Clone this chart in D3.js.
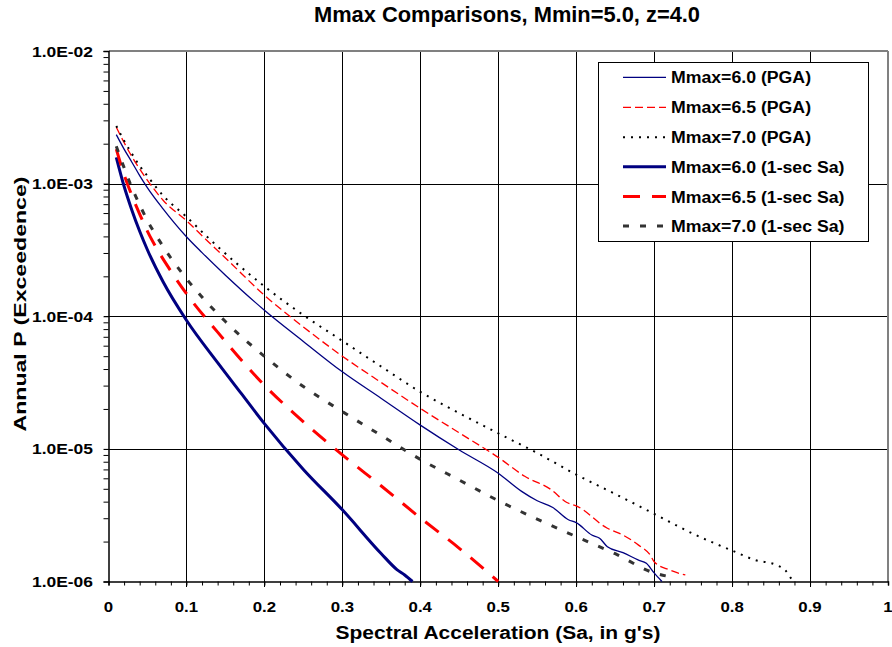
<!DOCTYPE html>
<html><head><meta charset="utf-8">
<script src="https://cdn.jsdelivr.net/npm/d3@7"></script>
<style>
html,body{margin:0;padding:0;background:#fff;}
svg{display:block;}
text{font-family:"Liberation Sans",Arial,sans-serif;font-weight:bold;fill:#000;}
</style></head>
<body>
<svg id="chart" width="892" height="647"></svg>
<script>
// ---------------- data ----------------
const titleText = "Mmax Comparisons, Mmin=5.0, z=4.0";
const xTitle = "Spectral Acceleration (Sa, in g's)";
const yTitle = "Annual P (Exceedence)";
const xTicks = [0,0.1,0.2,0.3,0.4,0.5,0.6,0.7,0.8,0.9,1];
const xTickLabels = ["0","0.1","0.2","0.3","0.4","0.5","0.6","0.7","0.8","0.9","1"];
const yTicks = [1e-6,1e-5,1e-4,1e-3,1e-2];
const yTickLabels = ["1.0E-06","1.0E-05","1.0E-04","1.0E-03","1.0E-02"];

const seriesNames = ["Mmax=6.0 (PGA)","Mmax=6.5 (PGA)","Mmax=7.0 (PGA)",
  "Mmax=6.0 (1-sec Sa)","Mmax=6.5 (1-sec Sa)","Mmax=7.0 (1-sec Sa)"];

const pga60X = [0.01,0.02,0.03,0.04,0.05,0.07,0.1,0.12,0.15,0.2,0.25,0.3,0.35,0.4,0.45,0.5,0.53,0.55,0.57,0.59,0.6,0.62,0.63,0.64,0.66,0.68,0.69,0.70,0.71];
const pga60P = [2.34e-3,1.82e-3,1.45e-3,1.15e-3,9.3e-4,6.46e-4,3.98e-4,3.02e-4,2.04e-4,1.11e-4,6.46e-5,3.81e-5,2.40e-5,1.51e-5,9.8e-6,6.55e-6,4.78e-6,4.06e-6,3.61e-6,2.92e-6,2.78e-6,2.24e-6,2.12e-6,1.83e-6,1.65e-6,1.45e-6,1.37e-6,1.16e-6,1.0e-6];

const pga65X = [0.01,0.02,0.03,0.04,0.05,0.07,0.1,0.13,0.15,0.2,0.25,0.3,0.35,0.4,0.45,0.5,0.534,0.568,0.588,0.6,0.64,0.66,0.68,0.695,0.70,0.72,0.74];
const pga65P = [2.66e-3,2.04e-3,1.60e-3,1.29e-3,1.06e-3,7.50e-4,5.25e-4,3.55e-4,2.75e-4,1.44e-4,8.3e-5,5.0e-5,3.16e-5,2.02e-5,1.32e-5,8.63e-6,6.21e-6,4.92e-6,3.94e-6,3.72e-6,2.52e-6,2.24e-6,1.88e-6,1.58e-6,1.41e-6,1.22e-6,1.12e-6];

const pga70X = [0.01,0.02,0.03,0.04,0.05,0.07,0.1,0.13,0.2,0.25,0.3,0.35,0.4,0.45,0.5,0.55,0.6,0.65,0.7,0.75,0.8,0.83,0.857,0.868,0.878];
const pga70P = [2.72e-3,2.11e-3,1.68e-3,1.36e-3,1.14e-3,8.13e-4,5.62e-4,3.80e-4,1.68e-4,1.02e-4,6.52e-5,4.17e-5,2.69e-5,1.86e-5,1.31e-5,9.3e-6,6.4e-6,4.57e-6,3.24e-6,2.29e-6,1.71e-6,1.45e-6,1.33e-6,1.22e-6,1.0e-6];

const sa60X = [0.01,0.02,0.03,0.04,0.05,0.07,0.1,0.14,0.17,0.2,0.25,0.3,0.35,0.37,0.38,0.39];
const sa60P = [1.58e-3,9.55e-4,6.31e-4,4.37e-4,3.16e-4,1.82e-4,9.33e-5,4.47e-5,2.63e-5,1.55e-5,7.0e-6,3.47e-6,1.62e-6,1.23e-6,1.12e-6,1.0e-6];

const sa65X = [0.01,0.02,0.03,0.04,0.05,0.06,0.08,0.1,0.14,0.2,0.25,0.3,0.35,0.4,0.45,0.5];
const sa65P = [1.82e-3,1.17e-3,8.13e-4,5.89e-4,4.37e-4,3.39e-4,2.19e-4,1.48e-4,7.59e-5,3.02e-5,1.60e-5,9.0e-6,5.25e-6,3.02e-6,1.78e-6,1.0e-6];

const sa70X = [0.01,0.02,0.03,0.04,0.05,0.06,0.08,0.1,0.15,0.2,0.25,0.3,0.35,0.4,0.45,0.5,0.55,0.6,0.65,0.7,0.727];
const sa70P = [1.91e-3,1.32e-3,9.33e-4,6.92e-4,5.25e-4,4.17e-4,2.75e-4,1.92e-4,9.12e-5,4.99e-5,2.95e-5,1.91e-5,1.26e-5,8.34e-6,5.82e-6,4.07e-6,2.95e-6,2.18e-6,1.62e-6,1.16e-6,1.07e-6];

// ---------------- styles ----------------
const seriesX = [pga60X,pga65X,pga70X,sa60X,sa65X,sa70X];
const seriesP = [pga60P,pga65P,pga70P,sa60P,sa65P,sa70P];
const styles = [
  {color:"#000080", width:1.3, dash:null},
  {color:"#ff0000", width:1.3, dash:"8,4"},
  {color:"#000000", width:2,   dash:"2,6"},
  {color:"#000080", width:3,   dash:null},
  {color:"#ff0000", width:3,   dash:"17,12"},
  {color:"#333333", width:3,   dash:"6,11"}
];

// ---------------- layout ----------------
const svg = d3.select("#chart");
const L = 108.5, R = 888, T = 51, B = 581.5;
const x = d3.scaleLinear().domain([0,1]).range([L,R]);
const y = d3.scaleLog().domain([1e-6,1e-2]).range([B,T]);

function stretch(sel, f){
  sel.each(function(){
    const n = this.getComputedTextLength();
    d3.select(this).attr("textLength", n*f).attr("lengthAdjust","spacingAndGlyphs");
  });
}

// gridlines
const grid = svg.append("g").attr("shape-rendering","crispEdges");
grid.selectAll(".vg").data(xTicks.slice(1,-1)).join("line")
  .attr("x1",d=>Math.round(x(d))+0.5).attr("x2",d=>Math.round(x(d))+0.5)
  .attr("y1",T).attr("y2",B+5).attr("stroke","#000").attr("stroke-width",1);
grid.selectAll(".hg").data(yTicks.slice(1,-1)).join("line")
  .attr("x1",L-5).attr("x2",R).attr("y1",d=>Math.round(y(d))+0.5).attr("y2",d=>Math.round(y(d))+0.5)
  .attr("stroke","#000").attr("stroke-width",1);
// border top/right (gray)
grid.append("line").attr("x1",L).attr("x2",R).attr("y1",T).attr("y2",T).attr("stroke","#808080").attr("stroke-width",1.5);
grid.append("line").attr("x1",R).attr("x2",R).attr("y1",T).attr("y2",B).attr("stroke","#808080").attr("stroke-width",1.5);

// axes
const xAxis = d3.axisBottom(x).tickValues(d3.range(0,1.0001,0.02)).tickSize(4).tickFormat("");
const gx = svg.append("g").attr("transform",`translate(0,${B})`).call(xAxis);
gx.select(".domain").attr("stroke","#000").attr("stroke-width",1.5);
gx.selectAll(".tick line").attr("stroke","#000");

const minorY = [];
for (let e=-6;e<-2;e++) for (let m=1;m<10;m++) minorY.push(m*Math.pow(10,e));
minorY.push(1e-2);
const yAxis = d3.axisLeft(y).tickValues(minorY).tickSize(5).tickFormat("");
const gy = svg.append("g").attr("transform",`translate(${L},0)`).call(yAxis);
gy.select(".domain").attr("stroke","#000").attr("stroke-width",1.5);
gy.selectAll(".tick line").attr("stroke","#000");

// tick labels
const xl = svg.append("g").selectAll("text").data(xTicks).join("text")
  .attr("x",d=>x(d)).attr("y",612).attr("text-anchor","middle")
  .style("font-size","15px").text((d,i)=>xTickLabels[i]);
stretch(xl,1.12);
const yl = svg.append("g").selectAll("text").data(yTicks).join("text")
  .attr("x",93).attr("y",d=>y(d)+5.5).attr("text-anchor","end")
  .style("font-size","15px").text((d,i)=>yTickLabels[i]);
stretch(yl,1.16);

// titles
svg.append("text").attr("transform","translate(507,22) scale(1,1.15)").attr("text-anchor","middle")
  .style("font-size","19px").attr("textLength",386).attr("lengthAdjust","spacingAndGlyphs").text(titleText);
const xt = svg.append("text").attr("x",498).attr("y",639).attr("text-anchor","middle")
  .style("font-size","18px").text(xTitle);
xt.attr("textLength",325).attr("lengthAdjust","spacingAndGlyphs");
const yt = svg.append("text").attr("transform","translate(26,304) rotate(-90)").attr("text-anchor","middle")
  .style("font-size","17px").text(yTitle);
yt.attr("textLength",255).attr("lengthAdjust","spacingAndGlyphs");

// series
const line = d3.line().x(d=>x(d[0])).y(d=>y(d[1])).curve(d3.curveMonotoneX);
const plot = svg.append("g");
seriesX.forEach((xs,i)=>{
  const pts = xs.map((v,j)=>[v,seriesP[i][j]]);
  const s = styles[i];
  plot.append("path").datum(pts).attr("d",line)
    .attr("fill","none").attr("stroke",s.color).attr("stroke-width",s.width)
    .attr("stroke-dasharray",s.dash).attr("stroke-linejoin","round");
});

// legend
const lg = svg.append("g");
lg.append("rect").attr("x",598.5).attr("y",62.5).attr("width",270).attr("height",179)
  .attr("fill","#fff").attr("stroke","#000").attr("stroke-width",1);
const rowY = [77.3,107.3,137.3,166.8,196.6,226];
seriesNames.forEach((name,i)=>{
  const s = styles[i];
  lg.append("line").attr("x1",623).attr("x2",666).attr("y1",rowY[i]).attr("y2",rowY[i])
    .attr("stroke",s.color).attr("stroke-width",s.width).attr("stroke-dasharray",s.dash);
  const t = lg.append("text").attr("x",671).attr("y",rowY[i]+6).style("font-size","16px").text(name);
  stretch(t,1.105);
});
</script>
</body></html>
